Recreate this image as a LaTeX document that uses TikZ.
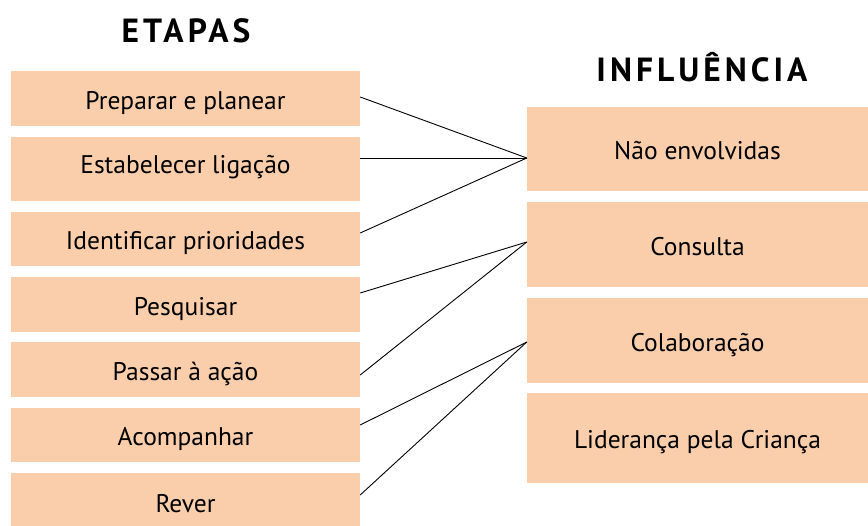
\documentclass[tikz,border=0pt]{standalone}
\usepackage{fontspec}
\setmainfont{PT Sans}
\newfontfamily\titlefont[LetterSpace=12]{PT Sans Bold}
\definecolor{pessego}{RGB}{250,206,171}
\tikzset{
  etapa/.style={fill=pessego, minimum width=349pt, inner sep=0pt, text height=24pt, text depth=2pt, font=\fontsize{25.5}{28}\selectfont},
  nivel/.style={fill=pessego, minimum width=341pt, inner sep=0pt, text height=24pt, text depth=2pt, font=\fontsize{25.5}{28}\selectfont},
  titulo/.style={font=\titlefont\fontsize{33.5}{36}\selectfont},
  liga/.style={draw=black, line width=0.9pt}
}
\begin{document}
\begin{tikzpicture}[x=1pt, y=-1pt]
    \useasboundingbox (0,0) rectangle (868,526);

    \node[titulo] (tEtapas) at (186,31) {ETAPAS};
    \node[titulo] (tInfl) at (702,67) {INFLUÊNCIA};

    \node[etapa, minimum height=55pt] (e1) at (185.5,98.5) {Preparar e planear};
    \node[etapa, minimum height=64pt, text depth=15pt] (e2) at (185.5,169) {Estabelecer ligação};
    \node[etapa, minimum height=54pt] (e3) at (185.5,239) {Identificar prioridades};
    \node[etapa, minimum height=55pt] (e4) at (185.5,304.5) {Pesquisar};
    \node[etapa, minimum height=55pt] (e5) at (185.5,369.5) {Passar à ação};
    \node[etapa, minimum height=54pt] (e6) at (185.5,435) {Acompanhar};
    \node[etapa, minimum height=56pt] (e7) at (185.5,501) {Rever};

    \node[nivel, minimum height=84pt] (n1) at (697.5,149) {Não envolvidas};
    \node[nivel, minimum height=85pt] (n2) at (697.5,244.5) {Consulta};
    \node[nivel, minimum height=85pt] (n3) at (697.5,340.5) {Colaboração};
    \node[nivel, minimum height=90pt] (n4) at (697.5,438) {Liderança pela Criança};

    \draw[liga] ([yshift=1.5pt]e1.east) -- ([yshift=-9pt]n1.west);
    \draw[liga] ([yshift=11pt]e2.east) -- ([yshift=-9pt]n1.west);
    \draw[liga] ([yshift=6pt]e3.east) -- ([yshift=-9pt]n1.west);
    \draw[liga] ([yshift=11.5pt]e4.east) -- ([yshift=2.5pt]n2.west);
    \draw[liga] ([yshift=-5.5pt]e5.east) -- ([yshift=2.5pt]n2.west);
    \draw[liga] ([yshift=10pt]e6.east) -- ([yshift=-1.5pt]n3.west);
    \draw[liga] ([yshift=6pt]e7.east) -- ([yshift=-1.5pt]n3.west);
\end{tikzpicture}
\end{document}
